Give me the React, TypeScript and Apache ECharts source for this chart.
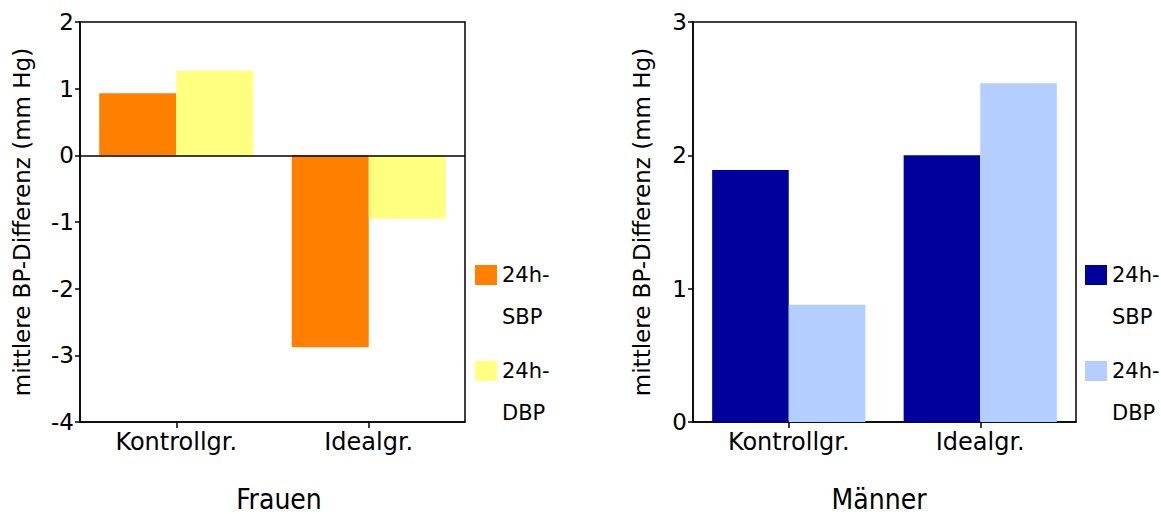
import React, { useEffect, useRef } from "react";
import * as echarts from "echarts";

const categories = ["Kontrollgr.", "Idealgr."];
const frauenSBP = [0.93, -2.88];
const frauenDBP = [1.27, -0.95];
const maennerSBP = [1.89, 2.0];
const maennerDBP = [0.88, 2.54];
const panelTitles = ["Frauen", "Männer"];
const yName = "mittlere BP-Differenz (mm Hg)";
const legendLabels: Record<string, string> = {
  "F-SBP": "\n24h-\nSBP",
  "F-DBP": "\n24h-\nDBP",
  "M-SBP": "\n24h-\nSBP",
  "M-DBP": "\n24h-\nDBP",
};

const FONT = "DejaVu Sans";

export default function App() {
  const ref = useRef<HTMLDivElement>(null);
  useEffect(() => {
    if (!ref.current) return;
    const chart = echarts.init(ref.current, undefined, { renderer: "svg" });
    const lineCol = { color: "#000", width: 1.5 };
    const xAxisBase = (gridIndex: number) => ({
      type: "category",
      gridIndex,
      data: categories,
      position: "bottom",
      axisLine: { show: true, onZero: false, lineStyle: lineCol },
      axisTick: { show: true, alignWithLabel: true, length: 6, lineStyle: lineCol },
      axisLabel: { color: "#000", fontSize: 24, fontFamily: FONT, margin: 8 },
      splitLine: { show: false },
    });
    const yAxisBase = (gridIndex: number, min: number, max: number, nameGap: number) => ({
      type: "value",
      gridIndex,
      min,
      max,
      interval: 1,
      name: yName,
      nameLocation: "middle",
      nameGap,
      nameTextStyle: { color: "#000", fontSize: 23, fontFamily: FONT },
      axisLine: { show: true, onZero: false, lineStyle: lineCol },
      axisTick: { show: true, length: 5, lineStyle: lineCol },
      axisLabel: { color: "#000", fontSize: 23, fontFamily: FONT, margin: 6 },
      splitLine: { show: false },
    });
    const legendBase = (left: number, data: string[]) => ({
      orient: "vertical",
      left,
      top: 207,
      data,
      icon: "rect",
      itemWidth: 22,
      itemHeight: 20,
      itemGap: -30,
      formatter: (n: string) => legendLabels[n],
      textStyle: {
        color: "#000",
        fontSize: 21,
        fontFamily: FONT,
        lineHeight: 42,
      },
      selectedMode: false,
    });
    const bar = (name: string, idx: number, data: number[], color: string) => ({
      name,
      type: "bar",
      xAxisIndex: idx,
      yAxisIndex: idx,
      data,
      barGap: "0%",
      barCategoryGap: "20%",
      itemStyle: { color },
    });
    const titleStyle = {
      color: "#000",
      fontSize: 28,
      lineHeight: 28,
      fontWeight: "normal",
      fontFamily: "DejaVu Sans Condensed",
    };
    const option: any = {
      animation: false,
      title: [
        { text: panelTitles[0], left: 279, top: 485, padding: 0, textAlign: "center", textStyle: titleStyle },
        { text: panelTitles[1], left: 879, top: 485, padding: 0, textAlign: "center", textStyle: titleStyle },
      ],
      grid: [
        { left: 80, top: 22, width: 385, height: 400, show: true, borderColor: "#000", borderWidth: 1.5, backgroundColor: "transparent" },
        { left: 693, top: 22, width: 383, height: 400, show: true, borderColor: "#000", borderWidth: 1.5, backgroundColor: "transparent" },
      ],
      xAxis: [xAxisBase(0), xAxisBase(1)],
      yAxis: [yAxisBase(0, -4, 2, 47), yAxisBase(1, 0, 3, 40)],
      legend: [legendBase(470, ["F-SBP", "F-DBP"]), legendBase(1080, ["M-SBP", "M-DBP"])],
      series: [
        {
          ...bar("F-SBP", 0, frauenSBP, "#FF8000"),
          markLine: {
            silent: true,
            symbol: "none",
            label: { show: false },
            lineStyle: { color: "#000", width: 1.5, type: "solid" },
            data: [{ yAxis: 0 }],
          },
        },
        bar("F-DBP", 0, frauenDBP, "#FFFF80"),
        bar("M-SBP", 1, maennerSBP, "#00009C"),
        bar("M-DBP", 1, maennerDBP, "#B3CEFF"),
      ],
    };
    chart.setOption(option);
    return () => chart.dispose();
  }, []);
  return (
    <div
      ref={ref}
      style={{ position: "absolute", left: 0, top: 0, width: 1161, height: 514, background: "#fff" }}
    />
  );
}
